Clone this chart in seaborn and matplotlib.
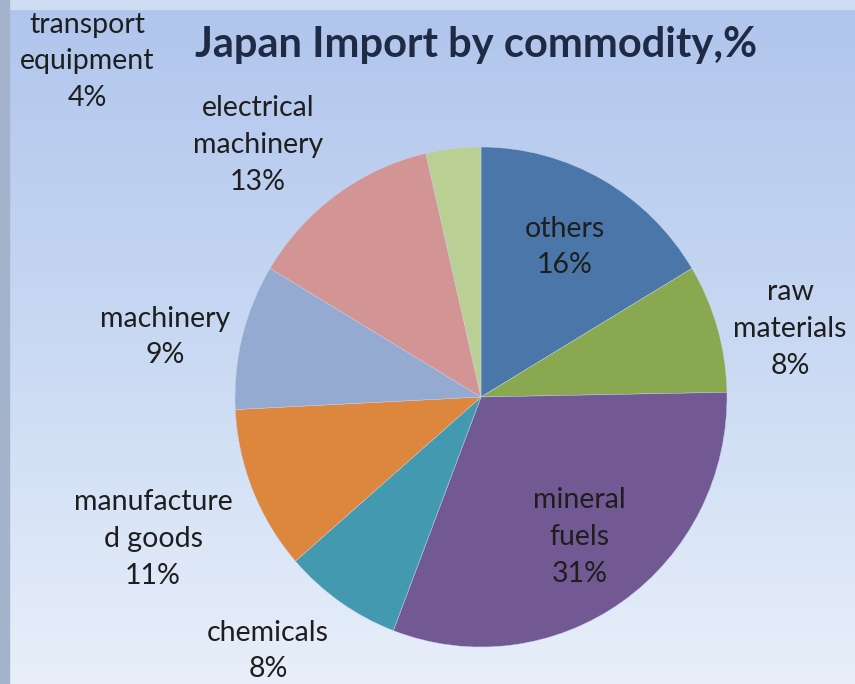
import numpy as np
import matplotlib.pyplot as plt
import seaborn as sns
from matplotlib.colors import LinearSegmentedColormap

# ---------------------------------------------
# Data: Japan import share by commodity (%)
# ---------------------------------------------
categories = ['others', 'raw\nmaterials', 'mineral\nfuels', 'chemicals',
              'manufacture\nd goods', 'machinery', 'electrical\nmachinery',
              'transport\nequipment']
shares = [16.4, 8.3, 31.1, 7.8, 10.6, 9.4, 12.8, 3.6]

colors = ['#4a76a9', '#8aa84f', '#735993', '#4399b0', '#dc863e',
          '#95aad0', '#d39593', '#bacf94']

# label placement (pie radius units from the centre), set by hand
label_pos = [(0.34, 0.60), (1.256, 0.272), (0.40, -0.56), (-0.866, -1.016),
             (-1.333, -0.568), (-1.285, 0.24), (-0.907, 1.008), (-1.602, 1.344)]

sns.set_theme(style='white')
plt.rcParams['font.family'] = ['Lato', 'DejaVu Sans']

W, H = 855, 684
cx, cy = 481, 397      # pie centre in pixels (from top-left)
rx, ry = 246, 250      # pie radius in pixels

fig = plt.figure(figsize=(W / 100, H / 100), dpi=100)

# ---------------------------------------------
# Background gradient
# ---------------------------------------------
bg = fig.add_axes([0, 0, 1, 1], zorder=-1)
cmap = LinearSegmentedColormap.from_list('bg', ['#b0c5ed', '#c9d9f3', '#e8effa'])
grad = np.linspace(0, 1, 256).reshape(-1, 1)
bg.imshow(grad, aspect='auto', cmap=cmap, extent=[0, 1, 0, 1], origin='upper')
bg.axhspan(0.987, 1.0, color='#cfdcf2')
bg.axvspan(0, 0.011, color='#a3b3cc')
bg.set_xlim(0, 1)
bg.set_ylim(0, 1)
bg.axis('off')

# ---------------------------------------------
# Pie
# ---------------------------------------------
ax = fig.add_axes([0, 0, 1, 1])
ax.pie(shares, colors=colors, startangle=90, counterclock=False,
       wedgeprops=dict(linewidth=0.3, edgecolor='#c8d2e6'))
ax.set_aspect('auto')
ax.set_xlim(-cx / rx, (W - cx) / rx)
ax.set_ylim(-(H - cy) / ry, cy / ry)
ax.axis('off')

for cat, val, (lx, ly) in zip(categories, shares, label_pos):
    ax.text(lx, ly, f'{cat}\n{val:.0f}%', ha='center', va='center',
            fontsize=20.5, color='#1e1e1e', linespacing=1.5)

fig.text(0.557, 0.934, 'Japan Import by commodity,%', ha='center', va='center',
         fontsize=30, fontweight='bold', color='#1f2b45')

plt.savefig('out.png', dpi=100)
